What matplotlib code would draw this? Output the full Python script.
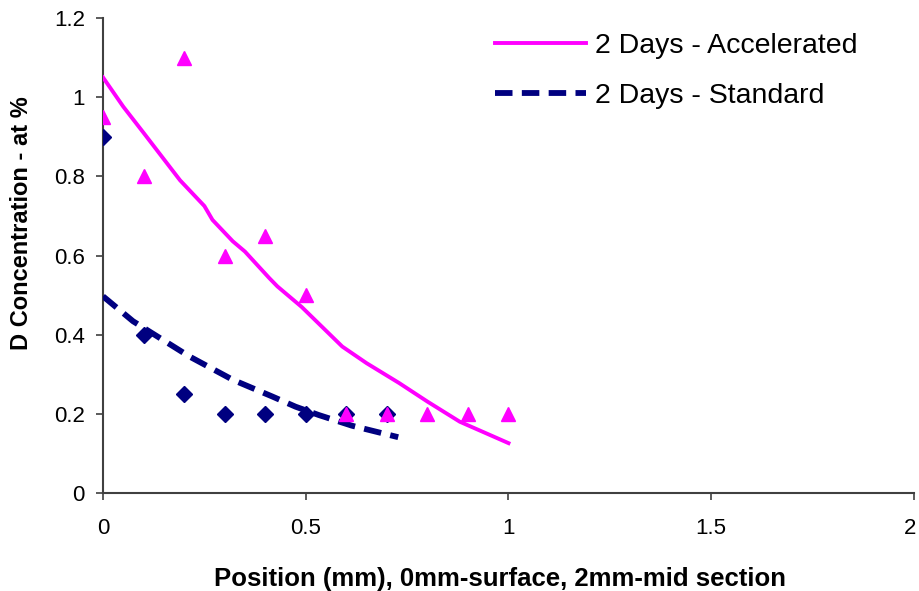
import numpy as np
import matplotlib.pyplot as plt
import matplotlib.transforms as mtransforms

plt.rcParams['font.family'] = ['Liberation Sans', 'DejaVu Sans']

# --- measured points ---
pos_acc = [0.0, 0.1, 0.2, 0.3, 0.4, 0.5, 0.6, 0.7, 0.8, 0.9, 1.0]
conc_acc = [0.95, 0.8, 1.1, 0.6, 0.65, 0.5, 0.2, 0.2, 0.2, 0.2, 0.2]

pos_std = [0.0, 0.1, 0.2, 0.3, 0.4, 0.5, 0.6, 0.7]
conc_std = [0.9, 0.4, 0.25, 0.2, 0.2, 0.2, 0.2, 0.2]

# --- fitted curves ---
fit_acc_x = [0.0, 0.05, 0.1, 0.19, 0.25, 0.27, 0.32, 0.35, 0.41, 0.43, 0.49,
             0.59, 0.65, 0.73, 0.80, 0.88, 1.0]
fit_acc_y = [1.05, 0.976, 0.91, 0.79, 0.725, 0.69, 0.636, 0.61, 0.543, 0.522,
             0.47, 0.37, 0.328, 0.278, 0.231, 0.18, 0.126]

fit_std_x = [0.0, 0.074, 0.127, 0.213, 0.32, 0.417, 0.475, 0.532, 0.614, 0.728]
fit_std_y = [0.497, 0.434, 0.40, 0.345, 0.286, 0.244, 0.218, 0.197, 0.17, 0.141]

x_ticks = [0, 0.5, 1, 1.5, 2]
x_ticklabels = ['0', '0.5', '1', '1.5', '2']
y_ticks = [0, 0.2, 0.4, 0.6, 0.8, 1.0, 1.2]
y_ticklabels = ['0', '0.2', '0.4', '0.6', '0.8', '1', '1.2']

fig = plt.figure(figsize=(9.2, 5.91), dpi=100)
ax = fig.add_axes([103 / 920, 1 - 493 / 591, 811 / 920, 475 / 591])

ax.plot(fit_acc_x, fit_acc_y, color='#ff00ff', linewidth=2.8,
        label='2 Days - Accelerated', zorder=3)
ax.plot(fit_std_x, fit_std_y, color='#000080', linewidth=4.2,
        dashes=(3.0, 1.6), label='2 Days - Standard', zorder=3)
ax.plot(pos_std, conc_std, 'D', color='#000080', markersize=8.5,
        linestyle='none', zorder=4)
ax.plot(pos_acc, conc_acc, '^', color='#ff00ff', markersize=10.5,
        linestyle='none', zorder=5)

ax.set_xlim(0, 2)
ax.set_ylim(0, 1.2)
ax.set_xticks(x_ticks)
ax.set_xticklabels(x_ticklabels)
ax.set_yticks(y_ticks)
ax.set_yticklabels(y_ticklabels)

for side in ['top', 'right']:
    ax.spines[side].set_visible(False)
for side in ['left', 'bottom']:
    ax.spines[side].set_color('#404040')
    ax.spines[side].set_linewidth(1.5)
ax.tick_params(direction='out', length=5, width=1.2, color='#404040',
               labelsize=16)
ax.tick_params(axis='x', pad=13)
ax.tick_params(axis='y', pad=8)

# keep the last x label inside the picture
last = ax.get_xticklabels()[-1]
last.set_transform(last.get_transform() +
                   mtransforms.ScaledTranslation(-4 / 100, 0, fig.dpi_scale_trans))

ax.set_xlabel('Position (mm), 0mm-surface, 2mm-mid section',
              fontsize=18.5, fontweight='bold')
ax.xaxis.set_label_coords(0.489, -0.155)
ax.set_ylabel('D Concentration - at %', fontsize=17, fontweight='bold')
ax.yaxis.set_label_coords(-0.1, 0.568)
ax.yaxis.label.set_va('center')

ax.legend(loc='upper left', bbox_to_anchor=(495 / 920, 1 - 33 / 591),
          bbox_transform=fig.transFigure, frameon=False, borderpad=0,
          borderaxespad=0, fontsize=20.5, handlelength=3.2,
          handletextpad=0.3, labelspacing=0.85)

fig.savefig('out.png', dpi=100)
